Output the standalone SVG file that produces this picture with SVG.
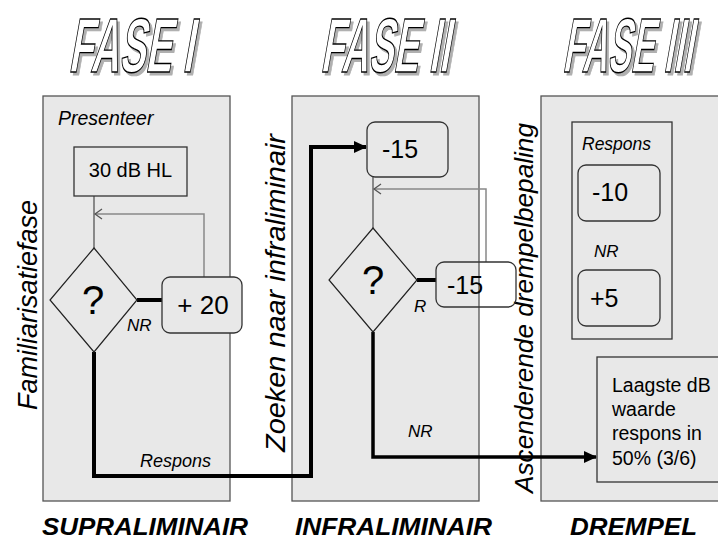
<svg xmlns="http://www.w3.org/2000/svg" width="718" height="541" viewBox="0 0 718 541">
<style>
  .panel { fill:#e8e8e8; stroke:#555; stroke-width:1.3; }
  .box { fill:none; stroke:#333; stroke-width:1.3; }
  .boxf { fill:#e8e8e8; stroke:#333; stroke-width:1.3; }
  .dia { fill:#e8e8e8; stroke:#222; stroke-width:1.2; }
  .t { font-family:"Liberation Sans", Arial, sans-serif; fill:#000; }
  .i { font-style:italic; }
  .b { font-weight:bold; }
  .thin { fill:none; stroke:#555; stroke-width:1.3; }
  .fb { fill:none; stroke:#888; stroke-width:1.5; }
  .thick { fill:none; stroke:#000; stroke-width:4; }
  .ttl { font-family:"Liberation Sans Narrow","Liberation Sans", Arial, sans-serif; font-weight:bold; font-size:77px; }
  .ttlm { fill:#fff; stroke:#000; stroke-width:1.4; }
  .ttls { fill:#b0b0b0; stroke:#b0b0b0; stroke-width:1.2; }
</style>
<defs>
  <marker id="ah" markerUnits="userSpaceOnUse" markerWidth="14" markerHeight="12" refX="12" refY="6" orient="auto">
    <path d="M0,0 L13,6 L0,12 Z" fill="#000"/>
  </marker>
  <marker id="oa" markerUnits="userSpaceOnUse" markerWidth="10" markerHeight="12" refX="8" refY="6" orient="auto">
    <path d="M1,1 L8,6 L1,11" fill="none" stroke="#555" stroke-width="1.3"/>
  </marker>
</defs>

<!-- Titles -->
<g id="titles">
  <g id="title1">
    <text class="ttl ttls" transform="translate(70.5,74.5) skewX(-10) scale(0.5,1)" textLength="250" lengthAdjust="spacingAndGlyphs">FASE I</text>
    <text class="ttl ttlm" transform="translate(68,72) skewX(-10) scale(0.5,1)" textLength="250" lengthAdjust="spacingAndGlyphs">FASE I</text>
  </g>
  <g id="title2">
    <text class="ttl ttls" transform="translate(322.5,74.5) skewX(-10) scale(0.5,1)" textLength="258" lengthAdjust="spacingAndGlyphs">FASE II</text>
    <text class="ttl ttlm" transform="translate(320,72) skewX(-10) scale(0.5,1)" textLength="258" lengthAdjust="spacingAndGlyphs">FASE II</text>
  </g>
  <g id="title3">
    <text class="ttl ttls" transform="translate(564.5,74.5) skewX(-10) scale(0.45,1)" textLength="289" lengthAdjust="spacingAndGlyphs">FASE III</text>
    <text class="ttl ttlm" transform="translate(562,72) skewX(-10) scale(0.45,1)" textLength="289" lengthAdjust="spacingAndGlyphs">FASE III</text>
  </g>
</g>

<!-- Panels -->
<g id="panel1"><rect class="panel" x="43" y="96" width="187" height="405"/></g>
<g id="panel2"><rect class="panel" x="292" y="96" width="187" height="405"/></g>
<g id="panel3"><rect class="panel" x="541" y="96" width="190" height="405"/></g>

<!-- Vertical labels -->
<g id="vlabel1"><text class="t i" font-size="27" transform="translate(37,410) rotate(-90)" textLength="210" lengthAdjust="spacingAndGlyphs">Familiarisatiefase</text></g>
<g id="vlabel2"><text class="t i" font-size="27" transform="translate(285,452) rotate(-90)" textLength="318" lengthAdjust="spacingAndGlyphs">Zoeken naar infraliminair</text></g>
<g id="vlabel3"><text class="t i" font-size="26" transform="translate(533,493) rotate(-90)" textLength="370" lengthAdjust="spacingAndGlyphs">Ascenderende drempelbepaling</text></g>

<!-- Connectors -->
<g id="connectors">
  <path class="thin" d="M94,196 V248"/>
  <path class="fb" d="M204,277 V214 H95" marker-end="url(#oa)"/>
  <path class="thick" d="M137,300 H162"/>
  <path class="thick" d="M94,352 V476 H311 V147 H366" marker-end="url(#ah)"/>
  <path class="thin" d="M373,177 V228"/>
  <path class="fb" d="M486,262 V189 H374" marker-end="url(#oa)"/>
  <path class="thick" d="M417,280 H436"/>
  <path class="thick" style="stroke-width:3.5" d="M373,332 V457 H596" marker-end="url(#ah)"/>
</g>

<!-- Panel 1 nodes -->
<g id="presenteer"><text class="t i" font-size="19.5" x="58" y="125">Presenteer</text></g>
<g id="n30db">
  <rect class="boxf" x="74" y="147" width="113" height="49"/>
  <text class="t" font-size="20" x="130.5" y="177" text-anchor="middle">30 dB HL</text>
</g>
<g id="q1">
  <polygon class="dia" points="94,248 137,300 94,352 50,300"/>
  <text class="t" font-size="40" x="93" y="314" text-anchor="middle">?</text>
</g>
<g id="plus20">
  <rect class="boxf" x="162" y="277" width="80" height="56" rx="8"/>
  <text class="t" font-size="26" x="203" y="314" text-anchor="middle">+ 20</text>
</g>
<g id="nr1"><text class="t i" font-size="17" x="127" y="331">NR</text></g>
<g id="respons1"><text class="t i" font-size="18" x="140" y="467">Respons</text></g>

<!-- Panel 2 nodes -->
<g id="m15a">
  <rect class="box" x="367" y="122" width="81" height="55" rx="8"/>
  <text class="t" font-size="25" x="382" y="158">-15</text>
</g>
<g id="q2">
  <polygon class="dia" points="373,228 417,280 373,332 329,280"/>
  <text class="t" font-size="40" x="373" y="294" text-anchor="middle">?</text>
</g>
<g id="m15b">
  <rect class="box" x="436" y="262" width="80" height="45" rx="8"/>
  <text class="t" font-size="25" x="447" y="294">-15</text>
</g>
<g id="r2"><text class="t i" font-size="17" x="414" y="312">R</text></g>
<g id="nr2"><text class="t i" font-size="17" x="408" y="437">NR</text></g>

<!-- Panel 3 nodes -->
<g id="inner3">
  <rect class="box" x="572" y="122" width="100" height="217"/>
  <text class="t i" font-size="17.5" x="582" y="150">Respons</text>
</g>
<g id="m10">
  <rect class="box" x="578" y="165" width="82" height="56" rx="8"/>
  <text class="t" font-size="25" x="592" y="201">-10</text>
</g>
<g id="nr3"><text class="t i" font-size="17" x="594" y="257">NR</text></g>
<g id="p5">
  <rect class="box" x="578" y="270" width="82" height="56" rx="8"/>
  <text class="t" font-size="25" x="590" y="307">+5</text>
</g>
<g id="laagste">
  <rect class="boxf" x="597" y="357" width="130" height="125"/>
  <text class="t" font-size="19.5" x="612">
    <tspan x="612" y="392">Laagste dB</tspan>
    <tspan x="612" y="416">waarde</tspan>
    <tspan x="612" y="440">respons in</tspan>
    <tspan x="612" y="465">50% (3/6)</tspan>
  </text>
</g>

<!-- Bottom labels -->
<g id="bottom">
  <text class="t b i" font-size="24" x="42" y="535" textLength="206" lengthAdjust="spacingAndGlyphs">SUPRALIMINAIR</text>
  <text class="t b i" font-size="24" x="295" y="535" textLength="197" lengthAdjust="spacingAndGlyphs">INFRALIMINAIR</text>
  <text class="t b i" font-size="24" x="570" y="535" textLength="127" lengthAdjust="spacingAndGlyphs">DREMPEL</text>
</g>
</svg>
